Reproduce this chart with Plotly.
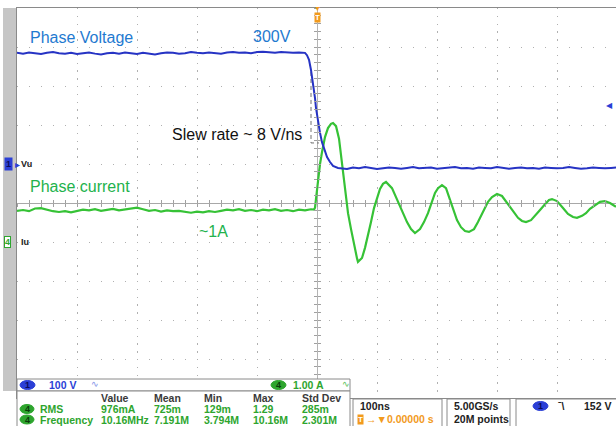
import plotly.graph_objects as go

W, H = 616, 426

# ---------------- data ----------------
time_per_div_ns = 100
volts_per_div = 100
amps_per_div = 1.0
ch1_offset_div = 1.0     # Vu ground marker position (divisions)
ch4_offset_div = -1.0    # Iu ground marker position (divisions)
trigger_level_v = 152

# Channel 1 : phase voltage (V) vs time (ns, trigger at 0)
t_voltage = [
    -500, -490, -480, -470, -460, -450, -440, -430, -420, -410,
    -400, -390, -380, -370, -360, -350, -340, -330, -320, -310,
    -300, -290, -280, -270, -260, -250, -240, -230, -220, -210,
    -200, -190, -180, -170, -160, -150, -140, -130, -120, -110,
    -100, -90, -80, -70, -60, -50, -40, -30,
    -20, -16.7, -13.3, -10, -6.7, -3.3, -1.7, 1.7, 5, 8.3, 13.3, 16.7, 21.7, 26.7, 35,
    40, 50, 60, 70, 80, 90, 100, 110, 120, 130,
    140, 150, 160, 170, 180, 190, 200, 210, 220, 230,
    240, 250, 260, 270, 280, 290, 300, 310, 320, 330,
    340, 350, 360, 370, 380, 390, 400, 410, 420, 430,
    440, 450, 460, 470, 480, 490, 500,
]
voltage = [
    285, 283, 286, 284, 282, 285, 287, 284, 283, 285,
    282, 284, 286, 283, 281, 284, 285, 283, 286, 284,
    282, 285, 283, 281, 284, 286, 285, 283, 284, 287,
    285, 284, 286, 285, 283, 286, 287, 285, 286, 284,
    287, 288, 286, 285, 287, 286, 285, 286,
    285, 279, 267, 241, 210, 169, 144, 105, 80, 56, 33, 18, 5, -5, -10,
    -11, -13, -9, -11, -8, -10, -13, -11, -9, -10,
    -12, -10, -8, -11, -10, -9, -12, -11, -10, -8,
    -11, -10, -12, -9, -10, -11, -8, -10, -12, -10,
    -9, -11, -10, -12, -9, -10, -11, -10, -8, -10,
    -12, -11, -9, -10, -11, -10, -9,
]

# Channel 4 : phase current (A) vs time (ns)
t_current = [
    -500, -490, -480, -470, -460, -450, -440, -430, -420, -410,
    -400, -390, -380, -370, -360, -350, -340, -330, -320, -310,
    -300, -290, -280, -270, -260, -250, -240, -230, -220, -210,
    -200, -190, -180, -170, -160, -150, -140, -130, -120, -110,
    -100, -90, -80, -70, -60, -50, -40, -30, -20, -10,
    -5, -3.3, -1.7, 1.7, 5, 8.3, 13.3, 18.3, 23.3, 26.7,
    31.7, 36.7, 41.7, 46.7, 51.7, 56.7, 60, 63.3, 66.7, 68.3,
    75, 80, 85, 90, 95, 100, 105, 110, 115, 125,
    133.3, 141.7, 150, 156.7, 163.3, 171.7, 178.3, 185, 191.7, 196.7,
    201.7, 208.3, 215, 220, 226.7, 233.3, 240, 246.7, 253.3, 261.7,
    268.3, 276.7, 285, 291.7, 300, 308.3, 316.7, 326.7, 335, 341.7,
    348.3, 356.7, 365, 371.7, 380, 386.7, 391.7, 400, 410, 418.3,
    426.7, 433.3, 441.7, 448.3, 455, 463.3, 471.7, 480, 488.3, 498.3,
]
current = [
    0.80, 0.82, 0.79, 0.86, 0.87, 0.83, 0.79, 0.77, 0.79, 0.76,
    0.80, 0.83, 0.81, 0.84, 0.80, 0.82, 0.85, 0.81, 0.83, 0.86,
    0.88, 0.84, 0.80, 0.82, 0.78, 0.81, 0.79, 0.80, 0.77, 0.75,
    0.78, 0.76, 0.79, 0.77, 0.80, 0.83, 0.81, 0.84, 0.80, 0.82,
    0.79, 0.83, 0.81, 0.84, 0.80, 0.82, 0.79, 0.83, 0.81, 0.84,
    0.83, 0.88, 1.10, 1.59, 2.00, 2.30, 2.69, 2.92, 3.03, 3.05,
    2.97, 2.65, 2.05, 1.33, 0.74, 0.33, 0.05, -0.15, -0.42, -0.51,
    -0.41, -0.15, 0.15, 0.51, 0.87, 1.15, 1.36, 1.49, 1.54, 1.38,
    1.08, 0.77, 0.51, 0.33, 0.23, 0.33, 0.51, 0.74, 1.03, 1.26,
    1.38, 1.46, 1.38, 1.15, 0.82, 0.56, 0.38, 0.28, 0.26, 0.33,
    0.51, 0.79, 1.03, 1.15, 1.23, 1.18, 1.00, 0.77, 0.62, 0.54,
    0.51, 0.56, 0.69, 0.82, 0.97, 1.08, 1.10, 1.05, 0.87, 0.72,
    0.64, 0.62, 0.67, 0.74, 0.85, 0.95, 1.03, 1.05, 1.00, 0.90,
]

# dashed slew-rate guide (V vs ns)
slew_t = [-10, -10, 3.3]
slew_v = [236, 54, 54]

meas_headers = ["Value", "Mean", "Min", "Max", "Std Dev"]
meas_rms = ["976mA", "725m", "129m", "1.29", "285m"]
meas_freq = ["10.16MHz", "7.191M", "3.794M", "10.16M", "2.301M"]

assert len(t_voltage) == len(voltage), (len(t_voltage), len(voltage))
assert len(t_current) == len(current), (len(t_current), len(current))

# ---------------- conversion to screen divisions ----------------
v_div = [ch1_offset_div + v / volts_per_div for v in voltage]
i_div = [ch4_offset_div + i / amps_per_div for i in current]
slew_div = [ch1_offset_div + v / volts_per_div for v in slew_v]

# ---------------- geometry ----------------
PX_L, PX_R, PX_T, PX_B = 17, 616, 8, 398
PX_PER_DIV_X, PX_PER_DIV_Y = 60, 39
x_lo = -5 * time_per_div_ns
x_hi = x_lo + (PX_R - PX_L) / PX_PER_DIV_X * time_per_div_ns


def px(x):
    return x / W


def py(y):
    return 1 - y / H


BLUE_TRACE = "#2633c4"
GREEN_TRACE = "#36c236"
BLUE_TEXT = "#1f7ad0"
GREEN_TEXT = "#22b24c"
PANEL_GREEN = "#2ea52e"
PANEL_BLUE = "#2b3fd6"
ORANGE = "#f29a1c"
GRID = "#b0b0b0"

fig = go.Figure()

fig.add_trace(go.Scatter(x=t_current, y=i_div, mode="lines",
                         line=dict(color=GREEN_TRACE, width=2.2),
                         hoverinfo="skip", showlegend=False))
fig.add_trace(go.Scatter(x=slew_t, y=slew_div, mode="lines",
                         line=dict(color="#707070", width=1, dash="4px,3px"),
                         hoverinfo="skip", showlegend=False))
fig.add_trace(go.Scatter(x=t_voltage, y=v_div, mode="lines",
                         line=dict(color=BLUE_TRACE, width=2),
                         hoverinfo="skip", showlegend=False))
# helper traces so that the centre tick axes are drawn
for xa, ya in [("x2", "y"), ("x3", "y"), ("x", "y2"), ("x", "y3")]:
    fig.add_trace(go.Scatter(x=[], y=[], xaxis=xa, yaxis=ya,
                             showlegend=False, hoverinfo="skip"))

xdom = [px(PX_L), px(PX_R)]
ydom = [py(PX_B), py(PX_T)]
y_center_paper = py(PX_T + 5 * PX_PER_DIV_Y)
x_center_paper = px(PX_L + 5 * PX_PER_DIV_X)

common_x = dict(domain=xdom, range=[x_lo, x_hi], showticklabels=False,
                fixedrange=True)
common_y = dict(domain=ydom, range=[-5, 5], showticklabels=False,
                fixedrange=True)

fig.update_layout(
    width=W, height=H,
    margin=dict(l=0, r=0, t=0, b=0),
    paper_bgcolor="white", plot_bgcolor="white",
    xaxis=dict(**common_x, dtick=time_per_div_ns, tick0=0,
               showgrid=True, gridcolor=GRID, gridwidth=1.3,
               griddash="1.3px,6.5px",
               zeroline=True, zerolinecolor="#b4b4b4", zerolinewidth=1,
               showline=True, linecolor="#8a8a8a", linewidth=1, mirror=True,
               ticks=""),
    yaxis=dict(**common_y, dtick=1, tick0=0,
               showgrid=True, gridcolor=GRID, gridwidth=1.3,
               griddash="1.3px,10.7px",
               zeroline=True, zerolinecolor="#a8a8a8", zerolinewidth=1,
               showline=True, linecolor="#8a8a8a", linewidth=1, mirror=True,
               ticks=""),
    xaxis2=dict(**common_x, overlaying="x", anchor="free",
                position=y_center_paper, dtick=20, tick0=0,
                ticks="outside", ticklen=3, tickcolor="#a0a0a0",
                showgrid=False, zeroline=False, showline=False),
    xaxis3=dict(**common_x, overlaying="x", anchor="free",
                position=y_center_paper, dtick=20, tick0=0,
                ticks="inside", ticklen=3, tickcolor="#a0a0a0",
                showgrid=False, zeroline=False, showline=False),
    yaxis2=dict(**common_y, overlaying="y", anchor="free",
                position=x_center_paper, dtick=0.2, tick0=0,
                ticks="outside", ticklen=3, tickcolor="#a0a0a0",
                showgrid=False, zeroline=False, showline=False),
    yaxis3=dict(**common_y, overlaying="y", anchor="free",
                position=x_center_paper, dtick=0.2, tick0=0,
                ticks="inside", ticklen=3, tickcolor="#a0a0a0",
                showgrid=False, zeroline=False, showline=False),
)

shapes = []
annots = []


def rect(x0, y0, x1, y1, fill="white", line="#8a8a8a", lw=1, layer="above"):
    shapes.append(dict(type="rect", xref="paper", yref="paper",
                       x0=px(x0), x1=px(x1), y0=py(y1), y1=py(y0),
                       fillcolor=fill, line=dict(color=line, width=lw),
                       layer=layer))


def pill(x0, y0, x1, y1, fill, label, color):
    shapes.append(dict(type="circle", xref="paper", yref="paper",
                       x0=px(x0), x1=px(x1), y0=py(y1), y1=py(y0),
                       fillcolor=fill, line=dict(color=fill, width=1),
                       layer="above"))
    annots.append(dict(x=px((x0 + x1) / 2), y=py((y0 + y1) / 2),
                       xref="paper", yref="paper", text=f"<b>{label}</b>",
                       showarrow=False, xanchor="center", yanchor="middle",
                       font=dict(family="Liberation Sans", size=9, color=color)))


def txt(x, y, s, color, size=10, anchor="left", family="Liberation Sans",
        xref="paper", yref="paper", **kw):
    annots.append(dict(x=px(x) if xref == "paper" else x,
                       y=py(y) if yref == "paper" else y,
                       xref=xref, yref=yref, text=s, showarrow=False,
                       xanchor=anchor, yanchor="middle",
                       font=dict(family=family, size=size, color=color), **kw))


# left grey strip
rect(3, 8, 16, 391, fill="#c6c6c6", line="#c6c6c6", lw=0, layer="below")

# plot labels
txt(28, 37, "Phase Voltage", BLUE_TEXT, 16)
txt(251, 36, "300V", BLUE_TEXT, 16)
txt(170, 134, "Slew rate ~ 8 V/ns", "#111111", 16)
txt(28, 186, "Phase current", GREEN_TEXT, 16)
txt(197, 231, "~1A", GREEN_TEXT, 16)

# channel ground markers
txt(4, ch1_offset_div, "<b>1</b>", "#0b0b5a", 9, yref="y",
    bgcolor=PANEL_BLUE, borderpad=1)
txt(13, ch1_offset_div, "▸", PANEL_BLUE, 10, yref="y")
txt(19, ch1_offset_div, "<b>Vu</b>", "#222222", 9, yref="y")
txt(4, ch4_offset_div, "<b>4</b>", PANEL_GREEN, 9, yref="y",
    bgcolor="white", bordercolor=PANEL_GREEN, borderwidth=1, borderpad=0)
txt(19, ch4_offset_div, "<b>Iu</b>", "#222222", 9, yref="y")

# trigger position marker (top) and trigger level marker (right)
annots.append(dict(x=0, y=py(9), xref="x", yref="paper", text="▼",
                   showarrow=False, xanchor="center", yanchor="middle",
                   font=dict(size=7, color=ORANGE)))
annots.append(dict(x=0, y=py(17), xref="x", yref="paper", text="<b>T</b>",
                   showarrow=False, xanchor="center", yanchor="middle",
                   bgcolor=ORANGE, borderpad=0,
                   font=dict(family="Liberation Sans", size=8, color="white")))
annots.append(dict(x=px(615), y=ch1_offset_div + trigger_level_v / volts_per_div,
                   xref="paper", yref="y", text="◀", showarrow=False,
                   xanchor="right", yanchor="middle",
                   font=dict(size=8, color=PANEL_BLUE)))

# ---------------- bottom readout panels ----------------
FS = 10.5
rect(17, 379, 350, 391)
pill(20, 380.5, 35, 389.5, PANEL_BLUE, "1", "#0b0b5a")
txt(47, 385, "<b>100 V</b>", PANEL_BLUE, FS)
txt(89, 384, "∿", "#7d8fe8", 9)
pill(271, 380.5, 286, 389.5, PANEL_GREEN, "4", "#0a3a0a")
txt(291, 385, "<b>1.00 A</b>", PANEL_GREEN, FS)
txt(340, 384, "∿", "#55c055", 9)

rect(17, 391, 350, 428)
cols = [99, 152, 202, 251, 300]
for c, h in zip(cols, meas_headers):
    txt(c, 398, f"<b>{h}</b>", "#3a3a3a", FS)
pill(20, 404.5, 34, 413.5, PANEL_GREEN, "4", "#0a3a0a")
txt(38, 409, "<b>RMS</b>", PANEL_GREEN, FS)
for c, v in zip(cols, meas_rms):
    txt(c, 409, f"<b>{v}</b>", PANEL_GREEN, FS)
pill(20, 415, 34, 424, PANEL_GREEN, "4", "#0a3a0a")
txt(38, 419.5, "<b>Frequency</b>", PANEL_GREEN, FS)
for c, v in zip(cols, meas_freq):
    txt(c, 419.5, f"<b>{v}</b>", PANEL_GREEN, FS)

rect(353, 399, 442, 430)
txt(358, 406, "<b>100ns</b>", "#222222", FS)
txt(357, 419, "<b>T</b>", "white", 8, bgcolor=ORANGE, borderpad=0)
txt(364, 419, "<b>→▼0.00000 s</b>", ORANGE, FS)
rect(447, 399, 510, 430)
txt(452, 406, "<b>5.00GS/s</b>", "#222222", FS)
txt(452, 419, "<b>20M points</b>", "#222222", FS)
rect(516, 399, 630, 430)
pill(533, 401.5, 548, 410.5, PANEL_BLUE, "1", "#0b0b5a")
txt(556, 406, "<b>ˉ\\</b>", "#222222", FS)
txt(582, 406, "<b>152 V</b>", "#222222", FS)

fig.update_layout(shapes=shapes, annotations=annots)
fig.write_html(
    "out.html",
    config={"displayModeBar": False},
    post_script="document.body.style.margin='0';"
                "document.body.style.padding='0';"
                "document.body.style.overflow='hidden';",
)
